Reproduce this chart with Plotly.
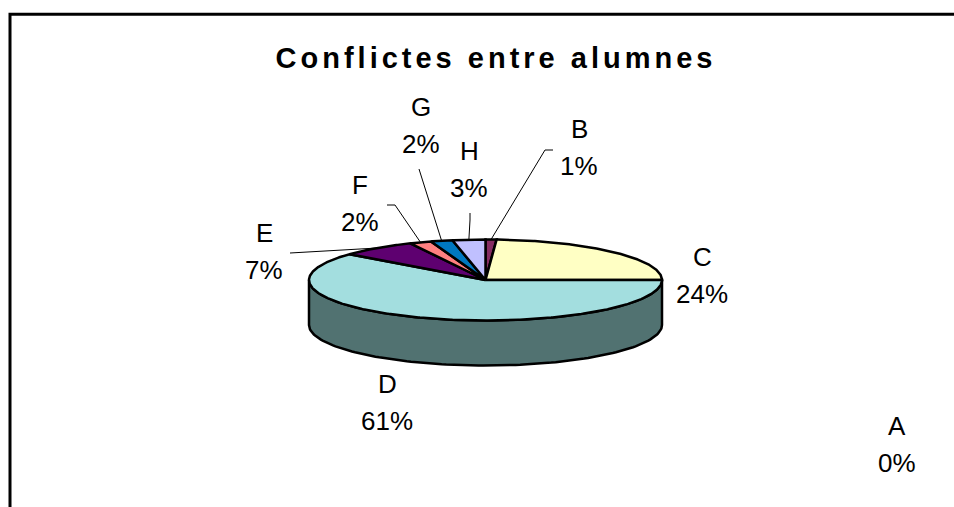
import numpy as np
import plotly.graph_objects as go

# ---- data ----
title_text = "Conflictes entre alumnes"
categories = ["A", "B", "C", "D", "E", "F", "G", "H"]
values = [0, 1, 24, 61, 7, 2, 2, 3]

# ---- styles ----
top_colors = ["#9999FF", "#862D63", "#FFFFC4", "#A3DEDF", "#5E0070", "#FF8080", "#0078C0", "#C0C0FF"]
side_colors = ["#5C5C99", "#501B3B", "#999976", "#517271", "#380043", "#994D4D", "#004873", "#737399"]

W, H = 954, 507
CX, CY = 485.5, 280.0      # centre of the top face (px)
RX, RY = 176.5, 40.5       # ellipse radii (px)
DEPTH = 45.0               # pie thickness (px)
FONT = "Arial, 'Liberation Sans', sans-serif"
LABEL_SIZE = 26
EDGE_W = 2.5

# label centres (name line) and leader-line start points (px layout)
label_pos = {
    "A": (897, 426), "B": (579, 129), "C": (702, 257), "D": (387, 384),
    "E": (264, 233), "F": (360, 185), "G": (421, 107), "H": (469, 151),
}
LINE_GAP = 37
leader_start = {
    "B": [(553, 150), (545, 150)],
    "E": [(290, 253)],
    "F": [(387, 205), (395, 205)],
    "G": [(419, 169)],
    "H": [(470, 213), (470, 220)],
}

total = float(sum(values))
fracs = [v / total for v in values]
bounds = np.concatenate([[0.0], np.cumsum(fracs)]) * 360.0  # clockwise from 12 o'clock


def pt(theta_deg, dy=0.0):
    t = np.radians(theta_deg)
    return CX + RX * np.sin(t), CY - RY * np.cos(t) + dy


fig = go.Figure()

# side walls (front half: 90..270 deg)
for i, cat in enumerate(categories):
    a, b = bounds[i], bounds[i + 1]
    lo, hi = max(a, 90.0), min(b, 270.0)
    if hi <= lo:
        continue
    th = np.linspace(lo, hi, 120)
    xs_top, ys_top = pt(th)
    xs_bot, ys_bot = pt(th[::-1], DEPTH)
    xs = np.concatenate([xs_top, xs_bot, xs_top[:1]])
    ys = np.concatenate([ys_top, ys_bot, ys_top[:1]])
    fig.add_trace(go.Scatter(x=xs, y=ys, mode="lines", fill="toself",
                             fillcolor=side_colors[i], line=dict(color="black", width=EDGE_W),
                             hoverinfo="skip", showlegend=False))

# top faces
for i, cat in enumerate(categories):
    a, b = bounds[i], bounds[i + 1]
    if b - a <= 0:
        continue
    th = np.linspace(a, b, max(4, int((b - a) * 2)))
    xa, ya = pt(th)
    xs = np.concatenate([[CX], xa, [CX]])
    ys = np.concatenate([[CY], ya, [CY]])
    fig.add_trace(go.Scatter(x=xs, y=ys, mode="lines", fill="toself",
                             fillcolor=top_colors[i], line=dict(color="black", width=EDGE_W),
                             hoverinfo="skip", showlegend=False,
                             name=f"{cat}: {values[i]}"))

# leader lines: label anchor -> middle of slice's outer arc
for cat, pts in leader_start.items():
    i = categories.index(cat)
    mid = (bounds[i] + bounds[i + 1]) / 2.0
    ex, ey = pt(mid)
    xs = [p[0] for p in pts] + [ex]
    ys = [p[1] for p in pts] + [ey]
    fig.add_trace(go.Scatter(x=xs, y=ys, mode="lines", line=dict(color="black", width=1),
                             hoverinfo="skip", showlegend=False))

# labels
annotations = []
for i, cat in enumerate(categories):
    lx, ly = label_pos[cat]
    pct = f"{round(fracs[i] * 100):.0f}%"
    for txt, yy in ((cat, ly), (pct, ly + LINE_GAP)):
        annotations.append(dict(x=lx, y=yy, xref="x", yref="y", text=txt, showarrow=False,
                                xanchor="center", yanchor="middle",
                                font=dict(family=FONT, size=LABEL_SIZE, color="black")))

fig.update_layout(
    width=W, height=H, margin=dict(l=0, r=0, t=0, b=0),
    paper_bgcolor="white", plot_bgcolor="white",
    xaxis=dict(range=[0, W], visible=False, fixedrange=True),
    yaxis=dict(range=[H, 0], visible=False, fixedrange=True),
    title=dict(text=f"<b>{title_text}</b>", x=496 / W, xanchor="center",
               y=1 - 58 / H, yanchor="middle",
               font=dict(family=FONT, size=29, color="black")),
    annotations=annotations,
    shapes=[dict(type="path", xref="x", yref="y",
                 path=f"M 10,{H + 5} L 10,14.3 L {W + 5},14.3",
                 line=dict(color="black", width=3))],
)

post = ("document.body.style.margin='0';"
        "document.body.style.overflow='hidden';"
        "document.querySelectorAll('.gtitle').forEach(function(e){"
        "e.style.letterSpacing='4px';});")
fig.write_html("out.html", post_script=post, config={"displayModeBar": False})
